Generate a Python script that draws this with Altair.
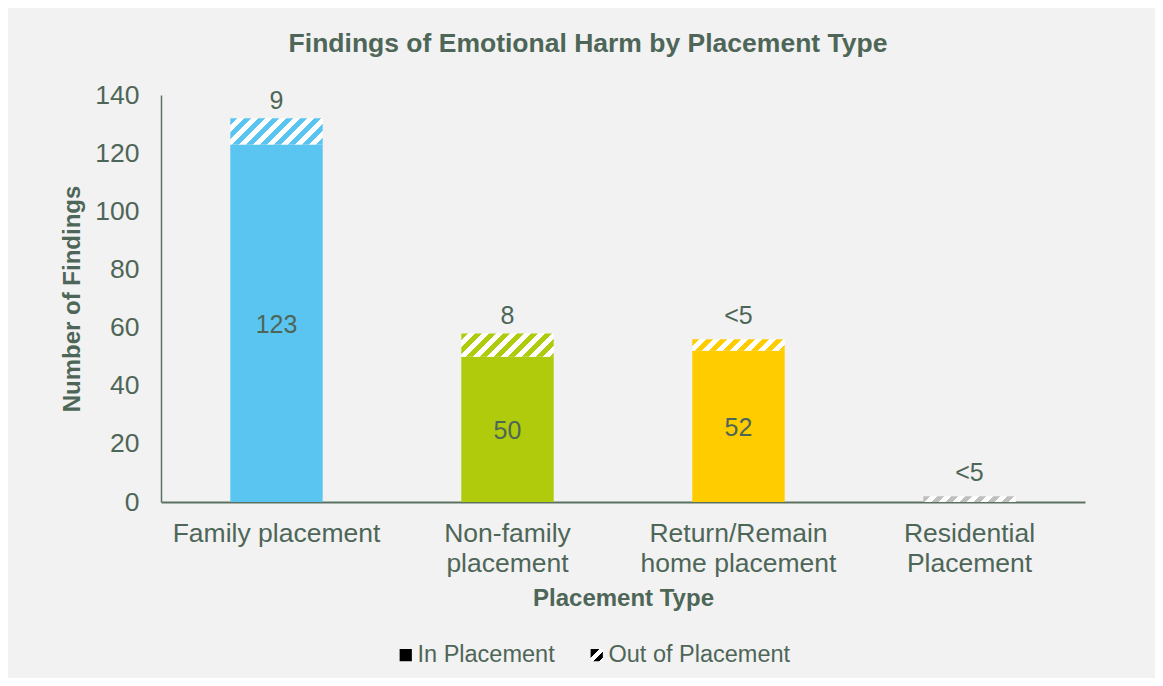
import altair as alt
import pandas as pd

# ---- data ----
categories = ["Family placement", "Non-family placement",
              "Return/Remain home placement", "Residential Placement"]
label_lines = [["Family placement"], ["Non-family", "placement"],
               ["Return/Remain", "home placement"], ["Residential", "Placement"]]
in_values = [123, 50, 52, 0]
out_values = [9, 8, 4, 2]
in_labels = ["123", "50", "52", ""]
out_labels = ["9", "8", "<5", "<5"]
bar_colors = ["#5BC5F2", "#B0CB0B", "#FFCC00", "#BFBFBF"]
legend_items = ["In Placement", "Out of Placement"]
y_ticks = [0, 20, 40, 60, 80, 100, 120, 140]

# ---- style ----
TEXT = "#4E6657"
AXIS = "#5B7263"
FONT = "Liberation Sans"
W, H = 924, 407
Y_MAX = 140
PAD_INNER, PAD_OUTER = 0.6, 0.3
PERIOD = 14

df = pd.DataFrame({
    "category": categories,
    "inval": in_values,
    "outval": out_values,
    "in_label": in_labels,
    "out_label": out_labels,
})
df["total"] = df["inval"] + df["outval"]
df["in_mid"] = df["inval"] / 2

step = W / (len(categories) - PAD_INNER + 2 * PAD_OUTER)
band = step * (1 - PAD_INNER)


def stripes(color, h_units):
    h = h_units * H / Y_MAX
    w = band
    L = w + h
    s = L / (w * w + h * h)
    stops = []
    half = PERIOD / 2
    n = int(L / half) + 1
    for k in range(n):
        c = color if k % 2 == 0 else "#FFFFFF"
        o0 = min(k * half / L, 1.0)
        o1 = min((k + 1) * half / L, 1.0)
        stops.append(alt.GradientStop(offset=o0, color=c))
        stops.append(alt.GradientStop(offset=o1, color=c))
    return alt.Gradient(gradient="linear", stops=stops,
                        x1=0, y1=0, x2=s * w, y2=s * h)


label_expr = ""
for cat, lines in zip(categories, label_lines):
    arr = "[" + ",".join("'" + l + "'" for l in lines) + "]"
    label_expr += f"datum.value == '{cat}' ? {arr} : "
label_expr += "datum.value"

x_enc = alt.X("category:N",
              scale=alt.Scale(domain=categories, paddingInner=PAD_INNER,
                              paddingOuter=PAD_OUTER),
              axis=alt.Axis(title="Placement Type", labelExpr=label_expr,
                            labelAngle=0, labelPadding=18, labelLineHeight=30,
                            labelLimit=400, labelFontSize=26.5, domainWidth=2,
                            titlePadding=10, titleFontSize=24))
y_scale = alt.Scale(domain=[0, Y_MAX], nice=False, zero=True)
y_axis = alt.Axis(title="Number of Findings", values=y_ticks, labelPadding=22,
                  labelFontSize=26.5, domainWidth=1.5, titlePadding=10,
                  titleFontSize=24)

base = alt.Chart(df)

in_bars = base.mark_bar().encode(
    x=x_enc,
    y=alt.Y("inval:Q", scale=y_scale, axis=y_axis),
    fill=alt.Fill("category:N",
                  scale=alt.Scale(domain=categories, range=bar_colors),
                  legend=None),
)

out_layers = []
for cat, col, ov in zip(categories, bar_colors, out_values):
    out_layers.append(
        base.transform_filter(alt.datum.category == cat)
        .mark_bar(fill=stripes(col, ov))
        .encode(x=x_enc, y=alt.Y("inval:Q", scale=y_scale, axis=y_axis),
                y2="total:Q")
    )

in_text = base.mark_text(fontSize=25, color=TEXT, font=FONT, dy=2).encode(
    x=x_enc, y=alt.Y("in_mid:Q", scale=y_scale, axis=y_axis),
    text="in_label:N")
out_text = base.mark_text(
    fontSize=25, color=TEXT, font=FONT,
    dy={"expr": "datum.out_label == '<5' ? -23 : -17"}).encode(
    x=x_enc, y=alt.Y("total:Q", scale=y_scale, axis=y_axis),
    text="out_label:N")

hatch_sym = ("datum.value === 'Out of Placement' ? {gradient: 'linear', x1: 0, y1: 0, x2: 1, y2: 1, "
             "stops: [{offset: 0, color: 'black'}, {offset: 0.35, color: 'black'}, "
             "{offset: 0.35, color: 'white'}, {offset: 0.6, color: 'white'}, "
             "{offset: 0.6, color: 'black'}, {offset: 0.85, color: 'black'}, "
             "{offset: 0.85, color: 'white'}, {offset: 1, color: 'white'}]} : 'black'")

legend_layer = alt.Chart(pd.DataFrame({"status": legend_items})).mark_point(
    shape="square", filled=True, size=0, fill={"expr": hatch_sym},
    strokeWidth=0).encode(
    shape=alt.Shape("status:N",
                    scale=alt.Scale(domain=legend_items, range=["square", "square"]),
                    legend=alt.Legend(
                        title=None, orient="none", direction="horizontal",
                        legendX=233, legendY=548, symbolType="square",
                        symbolSize=150, symbolOpacity=1, symbolStrokeWidth=0,
                        labelFontSize=23.5,
                        labelColor=TEXT, labelFont=FONT, labelOffset=0,
                        columnPadding=30, labelLimit=400, padding=0))
)

chart = (
    alt.layer(in_bars, *out_layers, in_text, out_text, legend_layer)
    .properties(
        width=W, height=H,
        background="#F2F2F2",
        padding={"left": 153, "top": 87, "right": 70, "bottom": 176},
        autosize=alt.AutoSizeParams(type="none"),
        title=alt.TitleParams(
            "Findings of Emotional Harm by Placement Type",
            fontSize=26.5, font=FONT, fontWeight="bold", color=TEXT,
            anchor="middle", dx=-35, offset=25),
    )
    .configure_view(stroke=None)
    .configure_axis(
        labelFont=FONT, titleFont=FONT, labelColor=TEXT, titleColor=TEXT,
        titleFontWeight="bold", domainColor=AXIS, ticks=False, grid=False,
    )
)

chart.save("out.html", embed_options={"renderer": "svg", "actions": False})
